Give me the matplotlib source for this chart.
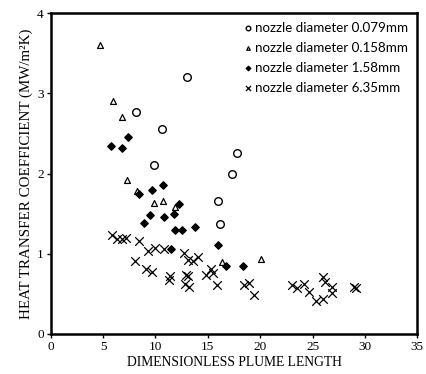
import matplotlib
matplotlib.use("Agg")
import matplotlib.pyplot as plt

# nozzle diameter 0.079 mm (open circles)
x_079 = [13.0, 8.15, 10.64, 9.88, 17.8, 17.3, 16.0, 16.2]
y_079 = [3.20, 2.77, 2.55, 2.11, 2.26, 2.00, 1.66, 1.37]

# nozzle diameter 0.158 mm (open triangles)
x_158 = [4.71, 5.9, 6.79, 7.27, 8.25, 9.88, 10.74, 11.89, 16.35, 20.1]
y_158 = [3.60, 2.91, 2.70, 1.92, 1.78, 1.63, 1.66, 1.58, 0.90, 0.93]

# nozzle diameter 1.58 mm (filled diamonds)
x_158b = [7.36, 5.74, 6.79, 8.41, 9.69, 10.7, 12.27, 9.43, 10.77, 11.76,
          8.86, 11.9, 12.5, 13.77, 15.97, 11.47, 16.7, 18.4]
y_158b = [2.46, 2.34, 2.32, 1.75, 1.79, 1.86, 1.62, 1.48, 1.46, 1.50,
          1.38, 1.29, 1.29, 1.33, 1.11, 1.06, 0.85, 0.85]

# nozzle diameter 6.35 mm (crosses)
x_635 = [5.83, 6.34, 6.76, 7.14, 8.38, 9.24, 10.0, 10.8, 12.75, 13.1, 13.6, 14.1,
         8.0, 9.05, 9.69, 11.38, 11.3, 12.9, 13.1, 12.8, 13.2, 14.8, 15.3, 15.45,
         15.9, 18.5, 18.9, 19.4, 23.0, 23.5, 24.2, 24.7, 25.3, 26.0, 26.0, 26.2,
         26.9, 26.9, 29.0, 29.2]
y_635 = [1.24, 1.18, 1.18, 1.20, 1.155, 1.03, 1.07, 1.055, 1.01, 0.92, 0.91, 0.96,
         0.91, 0.81, 0.77, 0.72, 0.67, 0.73, 0.72, 0.62, 0.59, 0.73, 0.81, 0.76,
         0.61, 0.61, 0.63, 0.49, 0.61, 0.57, 0.62, 0.52, 0.415, 0.44, 0.71, 0.65,
         0.58, 0.51, 0.58, 0.57]

labels = ["nozzle diameter 0.079mm", "nozzle diameter 0.158mm",
          "nozzle diameter 1.58mm", "nozzle diameter 6.35mm"]

plt.rcParams['font.family'] = ['Liberation Serif', 'DejaVu Serif']

fig = plt.figure(figsize=(4.27, 3.74), dpi=100)
ax = fig.add_axes([0.119, 0.107, 0.858, 0.858])

ax.scatter(x_079, y_079, marker='o', s=30, facecolors='white', edgecolors='black',
           linewidths=1.0, label=labels[0])
ax.scatter(x_158, y_158, marker='^', s=18, facecolors='white', edgecolors='black',
           linewidths=0.9, label=labels[1])
ax.scatter(x_158b, y_158b, marker='D', s=14, color='black', label=labels[2])
ax.scatter(x_635, y_635, marker='x', s=38, color='black', linewidths=0.9,
           label=labels[3])

ax.set_xlim(0, 35)
ax.set_ylim(0, 4)
ax.set_xticks(range(0, 36, 5))
ax.set_yticks(range(0, 5))
ax.tick_params(direction='out', length=3, width=1, labelsize=9.5, pad=2)
for s in ax.spines.values():
    s.set_linewidth(1.8)

ax.set_xlabel("DIMENSIONLESS PLUME LENGTH", fontsize=9.8, labelpad=2)
ax.set_ylabel("HEAT TRANSFER COEFFICIENT (MW/m²K)", fontsize=10.8, labelpad=3)

leg = ax.legend(loc='upper right', frameon=False, prop={'family': 'Lato', 'size': 9.6},
                handlelength=0.5, handletextpad=0.3, labelspacing=0.6,
                borderaxespad=0.25, markerscale=0.6)

fig.savefig("out.png", dpi=100)
